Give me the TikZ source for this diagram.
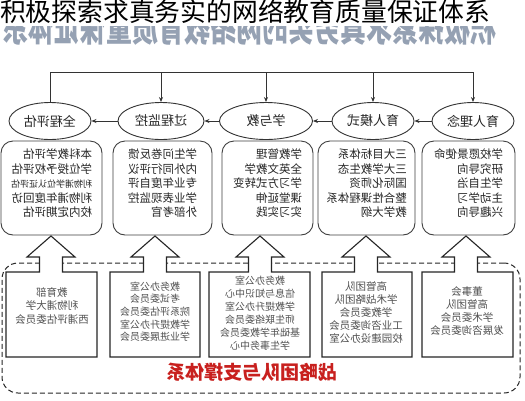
\documentclass[tikz,border=0pt]{standalone}
\usepackage{fontspec}
\setmainfont{Noto Sans CJK SC}
\usepackage{graphicx}
\usetikzlibrary{shapes.geometric,arrows.meta}
\newcommand{\mirr}[1]{\scalebox{-1}[1]{#1}}
\newcommand{\fsz}[2]{\fontsize{#1}{#2}\selectfont}
\newcommand{\lines}[2]{\begin{tabular}{@{}#1@{}}#2\end{tabular}}
\definecolor{redt}{HTML}{C8201E}
\definecolor{bannercol}{HTML}{95A1B3}
\begin{document}
\begin{tikzpicture}[x=1pt,y=-1pt,
  ell/.style={draw=black!80, line width=0.9pt, ellipse, minimum height=37pt, inner sep=0pt, font=\fsz{13}{15}, text=black!85},
  ubox/.style={draw=black!75, line width=0.9pt, rounded corners=12pt, minimum height=94pt, inner sep=0pt},
  utext/.style={font=\fsz{11.5}{14.5}, text=black!85, inner sep=0pt},
  ltext/.style={text=black!68, inner sep=0pt},
  lbox/.style={draw=black!85, line width=1.1pt, fill=white, line join=miter},
  arr/.style={-{Stealth[length=5pt,width=4pt]}, line width=0.8pt, draw=black!80},
  frame/.style={draw=black!85, line width=1pt, dash pattern=on 5pt off 3pt, rounded corners=16pt, inner sep=0pt},
]
\useasboundingbox (0,0) rectangle (525,400);
\fill[white] (0,0) rectangle (525,400);

% faded mirrored banner (only its lower half shows)
\begin{scope}
\clip (0,26) rectangle (525,48);
\node[font=\fsz{26}{28}\bfseries, text=bannercol, inner sep=0pt, anchor=south west] (banner) at (2,46) {\scalebox{-1}[1.5]{积极探索求真务实的网络教育质量保证体系}};
\end{scope}

% title
\node[font=\fsz{25.8}{28}, text=black, inner sep=0pt, anchor=west] (title) at (0,12) {积极探索求真务实的网络教育质量保证体系};

% ellipses
\node[ell, minimum width=82pt] (e1) at (50,121) {\mirr{全程评估}};
\node[ell, minimum width=86pt] (e2) at (161,121) {\mirr{过程监控}};
\node[ell, minimum width=93pt] (e3) at (266,121) {\mirr{学与教}};
\node[ell, minimum width=82pt] (e4) at (373,121) {\mirr{育人模式}};
\node[ell, minimum width=82pt] (e5) at (473,121) {\mirr{育人理念}};

\draw[arr] (e5) -- (e4);
\draw[arr] (e4) -- (e3);
\draw[arr] (e3) -- (e2);
\draw[arr] (e2) -- (e1);

\coordinate (T) at (0,72);
\draw[line width=0.8pt, black!80] (e1.north) -- (e1.north|-T) -- (e5.north|-T);
\foreach \n in {e2,e3,e4,e5} \draw[arr] (\n.north|-T) -- (\n.north);

% upper boxes
\node[ubox, minimum width=101pt] (b1) at (51.5,188) {};
\node[ubox, minimum width=99pt] (b2) at (162.5,188) {};
\node[ubox, minimum width=91pt] (b3) at (267.5,188) {};
\node[ubox, minimum width=97pt] (b4) at (366.5,188) {};
\node[ubox, minimum width=93pt] (b5) at (468.5,188) {};

\node[utext] (t1) at (b1|-0,185) {\mirr{\lines{l}{本科教学评估\\学位授予权评估\\{\fsz{9}{14.5}利物浦学位认证评估}\\利物浦年度回访\\校内定期评估}}};
\node[utext] (t2) at (b2|-0,185) {\mirr{\lines{l}{学生问卷反馈\\内外同行评议\\专业年度自评\\学业表现监控\\外部考官}}};
\node[utext] (t3) at (b3|-0,185) {\mirr{\lines{l}{学教管理\\全英文教学\\学习方式转变\\课堂延伸\\实习实践}}};
\node[utext] (t4) at (b4|-0,185) {\mirr{\lines{l}{三大目标体系\\三大学教生态\\国际化师资\\整合性课程体系\\教学大纲}}};
\node[utext] (t5) at (b5|-0,185) {\mirr{\lines{l}{学校愿景使命\\研究导向\\学生自治\\主动学习\\兴趣导向}}};

% bottom dashed frame
\node[frame, minimum width=518pt, minimum height=130pt] (fr) at (261,328) {};

% lower arrow boxes
\foreach \xa/\xb/\c in {6/97/51, 110/200/155, 209/310/260, 322/412/366, 422/513/466}{
  \draw[lbox] (\xa,272) -- ({\c-11.5},272) -- ({\c-11.5},257) -- ({\c-24},257) -- (\c,236)
    -- ({\c+24},257) -- ({\c+11.5},257) -- ({\c+11.5},272) -- (\xb,272) -- (\xb,357) -- (\xa,357) -- cycle;
}

\node[ltext, font=\fsz{10.5}{13.5}] (lA) at (52,307) {\mirr{\lines{c}{教育部\\利物浦大学\\西浦评估委员会}}};
\node[ltext, font=\fsz{10}{12.6}] (lB) at (155,313) {\mirr{\lines{c}{教务办公室\\考试委员会\\院系评估委员会\\学教提升办公室\\学业进展委员会}}};
\node[ltext, font=\fsz{10}{13}] (lC) at (260,314.5) {\mirr{\lines{c}{教务办公室\\信息与知识中心\\学教提升办公室\\师生联络委员会\\基础年学教委员会\\学生事务中心}}};
\node[ltext, font=\fsz{10.5}{13}] (lD) at (366,314) {\mirr{\lines{c}{高管团队\\学术战略团队\\学教委员会\\工业咨询委员会\\校园建设办公室}}};
\node[ltext, font=\fsz{10.5}{13}] (lE) at (467,312.5) {\mirr{\lines{c}{董事会\\高管团队\\学术委员会\\发展咨询委员会}}};

\node[font=\fsz{19}{21}\bfseries, text=redt, inner sep=0pt] (rt) at (252,372) {\mirr{战略团队与支撑体系}};
\end{tikzpicture}
\end{document}
